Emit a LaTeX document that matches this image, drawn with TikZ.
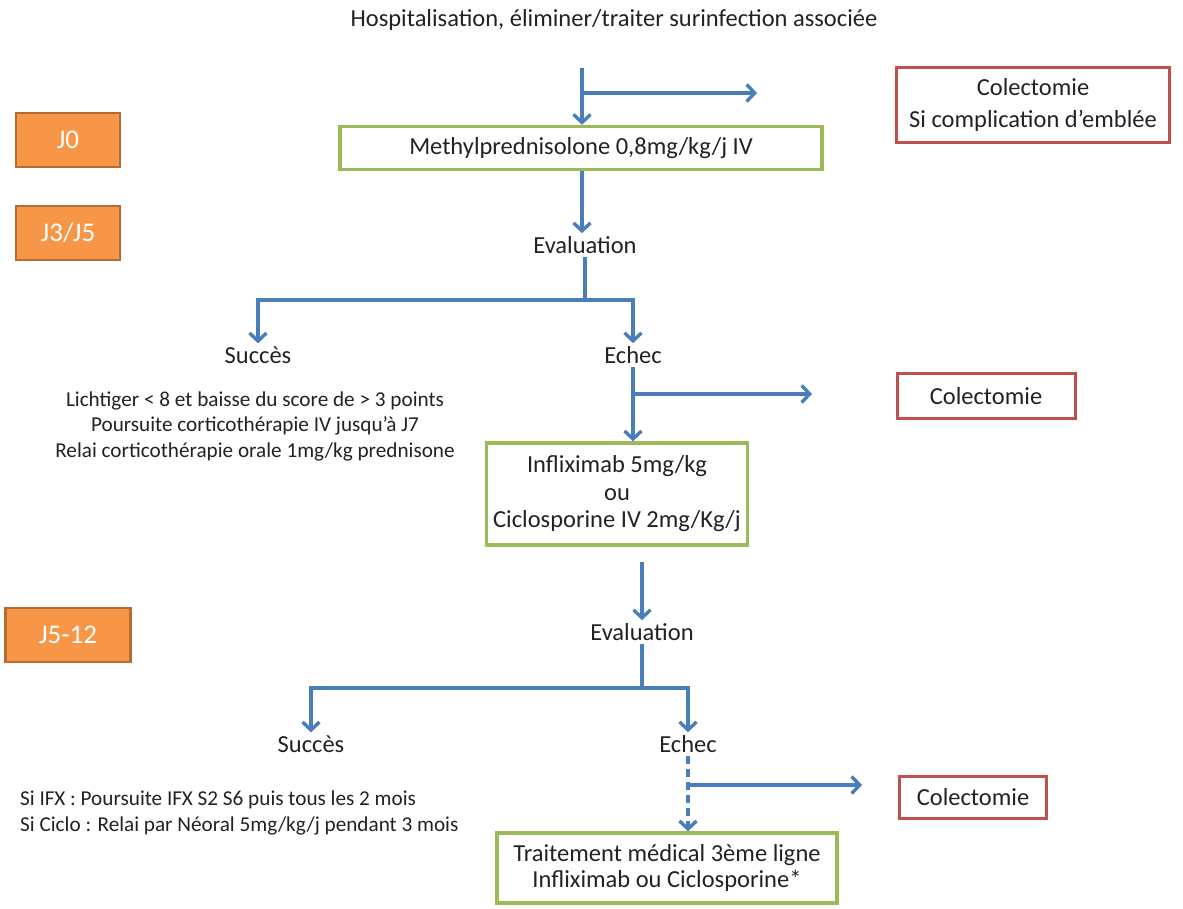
\documentclass[tikz,border=0pt]{standalone}
\usepackage{fontspec}
\setmainfont{Carlito}
\usetikzlibrary{arrows.meta}
\definecolor{flowblue}{HTML}{4A7EBB}
\definecolor{boxgreen}{HTML}{9BBB59}
\definecolor{boxred}{HTML}{C0504D}
\definecolor{dayfill}{HTML}{F79646}
\definecolor{dayedge}{HTML}{B66D31}
\definecolor{txt}{HTML}{222222}
\begin{document}
\begin{tikzpicture}
[x=1pt,y=-1pt,
  greenbox/.style={draw=boxgreen,line width=3.4pt,inner sep=0pt,align=center,text=txt,font=\fontsize{24.5}{27.5}\selectfont},
  redbox/.style={draw=boxred,line width=3pt,inner sep=0pt,align=center,text=txt,font=\fontsize{24.5}{32}\selectfont},
  daybox/.style={draw=dayedge,fill=dayfill,line width=2.4pt,inner sep=0pt,text=white,font=\fontsize{27}{30}\selectfont},
  plain/.style={text=txt,font=\fontsize{24.5}{28}\selectfont,inner sep=3pt},
  small/.style={text=txt,font=\fontsize{21.2}{25.5}\selectfont,inner sep=0pt},
  flowline/.style={draw=flowblue,line width=3.4pt},
  flow/.style={flowline,-{Straight Barb[length=8pt,width=17pt,line width=3.4pt]}}]
\useasboundingbox (0,0) rectangle (1183,909);
% nodes
\node (title) at (614,20) [plain] {Hospitalisation, éliminer/traiter surinfection associée};
\node (d0) at (68,140) [daybox,minimum width=104pt,minimum height=54pt] {J0};
\node (d35) at (68,233) [daybox,minimum width=104pt,minimum height=54pt] {J3/J5};
\node (d512) at (68,635) [daybox,minimum width=125pt,minimum height=54pt] {J5-12};
\node (methyl) at (581,148) [greenbox,minimum width=482pt,minimum height=43pt] {Methylprednisolone 0,8mg/kg/j IV};
\node (colec1) at (1033,105) [redbox,minimum width=273pt,minimum height=75pt] {Colectomie\\Si complication d’emblée};
\node (eval1) at (585,245) [plain] {Evaluation};
\node (succ1) at (258,355) [plain] {Succès};
\node (ech1) at (633,355) [plain] {Echec};
\node (lich) at (255,426) [small,align=center] {Lichtiger < 8 et baisse du score de > 3 points\\Poursuite corticothérapie IV jusqu’à J7\\Relai corticothérapie orale 1mg/kg prednisone};
\node (colec2) at (986,396) [redbox,minimum width=178pt,minimum height=45pt] {Colectomie};
\node (inflix) at (617,494) [greenbox,minimum width=261pt,minimum height=102pt] {Infliximab 5mg/kg\\ou\\Ciclosporine IV 2mg/Kg/j};
\node (eval2) at (642,632) [plain] {Evaluation};
\node (succ2) at (311,744) [plain] {Succès};
\node (ech2) at (688,744) [plain] {Echec};
\node (ifx) at (20,813) [small,anchor=west,align=left] {Si IFX : Poursuite IFX S2 S6 puis tous les 2 mois\\Si Ciclo : Relai par Néoral 5mg/kg/j pendant 3 mois};
\node (colec3) at (973,797) [redbox,minimum width=147pt,minimum height=42pt] {Colectomie};
\node (trait) at (667,868) [greenbox,minimum width=340pt,minimum height=70pt,font=\fontsize{24.5}{26}\selectfont] {Traitement médical 3ème ligne\\Infliximab ou Ciclosporine*};
% forks and free ends
\coordinate (start) at (582,68);
\coordinate (br1) at (582,93);
\coordinate (end1) at (757,93);
\coordinate (fork1) at (585,300);
\coordinate (br2) at (633,394);
\coordinate (end2) at (812,394);
\coordinate (fork2) at (642,688);
\coordinate (br3) at (688,785);
\coordinate (end3) at (862,785);
% edges
\draw[flow] (start) -- (start |- methyl.north);
\draw[flow] (br1) -- (end1);
\draw[flow] (methyl.south -| start) -- (eval1.north -| start);
\draw[flowline] (eval1.south) -- (fork1);
\draw[flow] (fork1) -| (succ1.north);
\draw[flow] (fork1) -| (ech1.north);
\draw[flow] (ech1.south) -- (ech1 |- inflix.north);
\draw[flow] (br2) -- (end2);
\draw[flow] ([yshift=-15pt]inflix.south -| eval2) -- (eval2.north);
\draw[flowline] (eval2.south) -- (fork2);
\draw[flow] (fork2) -| (succ2.north);
\draw[flow] (fork2) -| (ech2.north);
\draw[flow,dash pattern=on 8pt off 5pt] (ech2.south) -- (ech2 |- trait.north);
\draw[flow] (br3) -- (end3);
\end{tikzpicture}
\end{document}
